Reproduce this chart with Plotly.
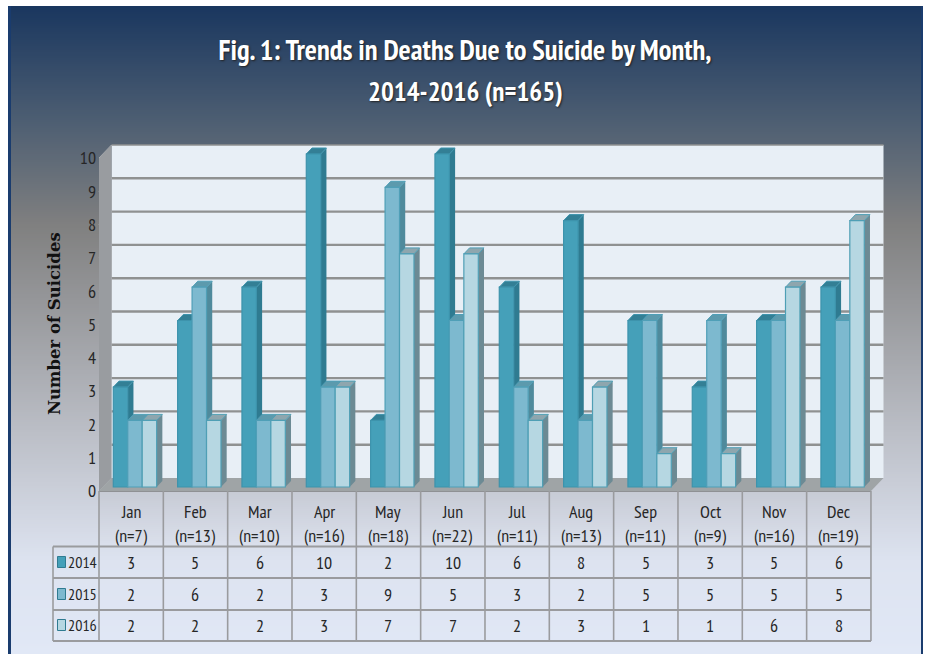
import numpy as np
import plotly.graph_objects as go

months = ["Jan", "Feb", "Mar", "Apr", "May", "Jun", "Jul", "Aug", "Sep", "Oct", "Nov", "Dec"]
month_n = [7, 13, 10, 16, 18, 22, 11, 13, 11, 9, 16, 19]
s2014 = [3, 5, 6, 10, 2, 10, 6, 8, 5, 3, 5, 6]
s2015 = [2, 6, 2, 3, 9, 5, 3, 2, 5, 5, 5, 5]
s2016 = [2, 2, 2, 3, 7, 7, 2, 3, 1, 1, 6, 8]
years = ["2014", "2015", "2016"]
series = [s2014, s2015, s2016]
ticks = list(range(11))
title1 = "Fig. 1: Trends in Deaths Due to Suicide by Month,"
title2 = "2014-2016 (n=165)"
ytitle = "Number of Suicides"

W, H = 930, 654
X0, CW = 99.0, 64.33      # table left edge, column width
Y0, UH = 487.0, 33.3      # bar baseline pixel, pixels per unit
DX, DY = 5.7, 6.0         # bar depth
WALL = 12.5               # wall depth
BAR = 14.45

FRONT = ["#45a0b9", "#7db9cf", "#b6d7e2"]
EDGE = ["#3d93ac", "#4f9fb7", "#4f9fb5"]
SIDE = ["#2f7b91", "#4f8a9c", "#6c8a94"]
TOP = ["#337f95", "#5c9aad", "#8ea6ae"]
NARROW = "PT Sans Narrow, Roboto, sans-serif"
TXT = "#262626"

def fx(p): return (p - X0) / CW - 0.5
def fy(p): return (Y0 - p) / UH
def px(p): return p / W
def py(p): return 1 - p / H

shapes = []
def rect(x0, y0, x1, y1, color, line=None, lw=0):
    shapes.append(dict(type="rect", xref="paper", yref="paper", x0=px(x0), x1=px(x1), y0=py(y0), y1=py(y1),
                       fillcolor=color, line=dict(color=line or color, width=lw), layer="below"))
def seg(x0, y0, x1, y1, color, lw):
    shapes.append(dict(type="line", xref="paper", yref="paper", x0=px(x0), x1=px(x1), y0=py(y0), y1=py(y1),
                       line=dict(color=color, width=lw), layer="below"))
def poly(pts, color, ref="px", line=None, lw=0):
    if ref == "px":
        pts = [(fx(a), fy(b)) for a, b in pts]
    path = "M " + " L ".join(f"{a:.5f},{b:.5f}" for a, b in pts) + " Z"
    shapes.append(dict(type="path", xref="x", yref="y", path=path, fillcolor=color,
                       line=dict(color=line or color, width=lw), layer="below"))

def hexc(c): return np.array([int(c[i:i+2], 16) for i in (1, 3, 5)], float)
def grad(stops, y):
    ys = [s[0] for s in stops]
    cs = [hexc(s[1]) for s in stops]
    v = [np.interp(y, ys, [c[k] for c in cs]) for k in range(3)]
    return "#%02x%02x%02x" % tuple(int(round(a)) for a in v)

# page background
bg = [(6, "#1a375f"), (120, "#4d5e72"), (225, "#808080"), (430, "#bbbec6"), (560, "#dde3f0"), (654, "#e1e8f6")]
for y in range(6, 654, 2):
    rect(8, y, 923, y + 2.5, grad(bg, y))
rect(8, 6, 11, 654, "#1a3c6e")
rect(921, 6, 923, 654, "#1a3c6e")

# walls and floor
xb0, xb1 = X0 + WALL, 871 + WALL
yb0, yb1 = 478.0, 145.0
rect(xb0, yb1, xb1, yb0, "#e8eff6")
poly([(X0, 491), (xb0, yb0), (xb0, yb1), (X0, 158)], "#999ca0")
poly([(X0, 491), (871, 491), (xb1, yb0), (xb0, yb0)], "#9fa4a6")
for v in ticks:
    yy = yb0 - 33.3 * v
    if v > 0:
        seg(xb0, yy, xb1, yy, "#8f9191", 2.4 if v < 10 else 1.5)
    seg(X0, yy + 13, xb0, yy, "#b5b8bb", 1)

# 3D side and top faces, from the values
bar_w = BAR / CW
start = (113.3 - X0) / CW - 0.5
ddx, ddy = DX / CW, DY / UH
for k, vals in enumerate(series):
    for i, v in enumerate(vals):
        l = i + start + k * bar_w
        r = l + bar_w
        poly([(r, 0), (r + ddx, ddy), (r + ddx, v + ddy), (r, v)], SIDE[k], ref="d")
        poly([(l, v), (l + ddx, v + ddy), (r + ddx, v + ddy), (r, v)], TOP[k], ref="d", line=EDGE[k], lw=1)

# table
hdr = [(491, "#c7cbd5"), (546, "#dbe0ec")]
for y in range(491, 546, 2):
    rect(X0, y, 871, y + 2.5, grad(hdr, y))
for y in (491, 546.5, 578, 610, 641):
    seg(X0 if y < 546 else 53, y, 871, y, "#8f9194" if y == 491 else "#9a9b9e", 2)
for i in range(13):
    seg(X0 + CW * i, 491, X0 + CW * i, 641, "#9a9b9e", 1.6)
seg(53, 546.5, 53, 641, "#9a9b9e", 1.6)

annotations = []
def text(x, y, s, size=18, family=NARROW, color=TXT, **kw):
    annotations.append(dict(x=px(x), y=py(y), xref="paper", yref="paper", text=s, showarrow=False,
                            xanchor="center", yanchor="middle",
                            font=dict(family=family, size=size, color=color, **kw.pop("font", {})), **kw))
for i, m in enumerate(months):
    cx = X0 + CW * (i + 0.5)
    text(cx, 511, m)
    text(cx, 535, f"(n={month_n[i]})")
rows_y = [562, 594, 625]
for k, vals in enumerate(series):
    rect(57.5, rows_y[k] - 5.5, 65.5, rows_y[k] + 5.5, FRONT[k], line=SIDE[0], lw=1)
    text(82.5, rows_y[k], years[k], size=16)
    for i, v in enumerate(vals):
        text(X0 + CW * (i + 0.5), rows_y[k], str(v))
text(54, 324, ytitle, size=16.5, family="DejaVu Serif", color="#111111", textangle=-90, font=dict(weight="bold"))
text(465, 91, title2, size=27, color="white", font=dict(weight="bold", shadow="1px 1px 2px #222222"))

fig = go.Figure()
for k, vals in enumerate(series):
    fig.add_trace(go.Bar(x=months, y=vals, name=years[k], width=bar_w, offset=start + k * bar_w,
                         marker=dict(color=FRONT[k], line=dict(color=EDGE[k], width=1.2)), showlegend=False))
fig.update_layout(
    width=W, height=H, margin=dict(l=0, r=0, t=0, b=0), barmode="overlay",
    paper_bgcolor="white", plot_bgcolor="rgba(0,0,0,0)",
    title=dict(text=title1, x=465 / W, xanchor="center", y=1 - 50 / H, yanchor="middle",
               font=dict(family=NARROW, size=28.5, color="white", weight="bold", shadow="1px 1px 2px #222222")),
    xaxis=dict(type="category", categoryorder="array", categoryarray=months, range=[fx(0), fx(W)],
               visible=False, fixedrange=True),
    yaxis=dict(range=[fy(H), fy(0)], anchor="free", position=96 / W, tickmode="array", tickvals=ticks,
               ticktext=[str(t) for t in ticks], showgrid=False, zeroline=False, showline=False, ticklen=0,
               ticklabelshift=4, tickfont=dict(family=NARROW, size=18, color=TXT), fixedrange=True),
    shapes=shapes, annotations=annotations,
)
fig.write_html("out.html", config=dict(displayModeBar=False),
               post_script="document.body.style.margin='0';document.documentElement.style.overflow='hidden';")
